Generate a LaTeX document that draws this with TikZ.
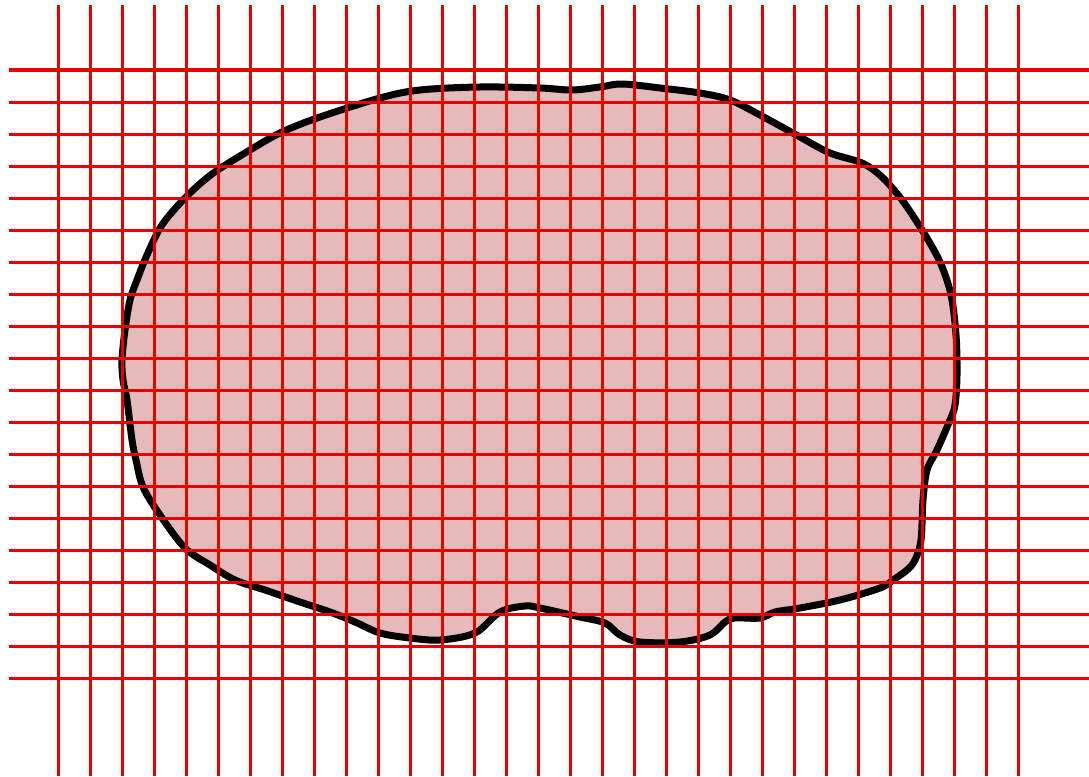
\documentclass[tikz,border=0pt]{standalone}
\usepackage{tikz}

\definecolor{blobfill}{RGB}{230,185,186}
\definecolor{gridred}{RGB}{235,0,0}

\begin{document}
\begin{tikzpicture}[
  x=1pt,y=-1pt,
  blobshape/.style={draw=black,fill=blobfill,line width=7pt,line join=round},
  gridline/.style={draw=gridred,line width=3pt}
]
  \useasboundingbox (0,0) rectangle (1089,776);
  % the region
  \draw[blobshape] plot[smooth cycle,tension=0.55] coordinates {
    (480,87) (540,88) (572,90) (600,87) (622,84) (660,88) (700,93) (730,100)
    (760,115) (800,137) (830,153) (862,163) (882,177) (902,200) (922,230)
    (940,262) (951,295) (956,335) (957,375) (955,405) (950,420) (937,450)
    (927,470) (923,500) (921,540) (915,560) (907,570) (893,580) (880,588)
    (840,600) (800,608) (775,612) (760,618) (735,618) (725,622) (710,635)
    (680,642) (640,642) (620,635) (605,623) (580,617) (540,608) (525,606)
    (500,612) (475,633) (440,640) (410,638) (380,633) (355,622) (330,612)
    (300,602) (265,590) (235,580) (210,565) (185,548) (160,515) (143,487)
    (136,460) (132,440) (127,400) (123,380) (122,360) (125,330) (130,300)
    (137,280) (147,255) (162,225) (185,198) (212,174) (250,150) (282,132)
    (320,117) (380,98) (420,90)};
  % grid
  \foreach \i in {0,...,30}
    \draw[gridline] ({58+32*\i},5) -- ({58+32*\i},776);
  \foreach \j in {0,...,19}
    \draw[gridline] (9,{70+32*\j}) -- (1089,{70+32*\j});
\end{tikzpicture}
\end{document}
